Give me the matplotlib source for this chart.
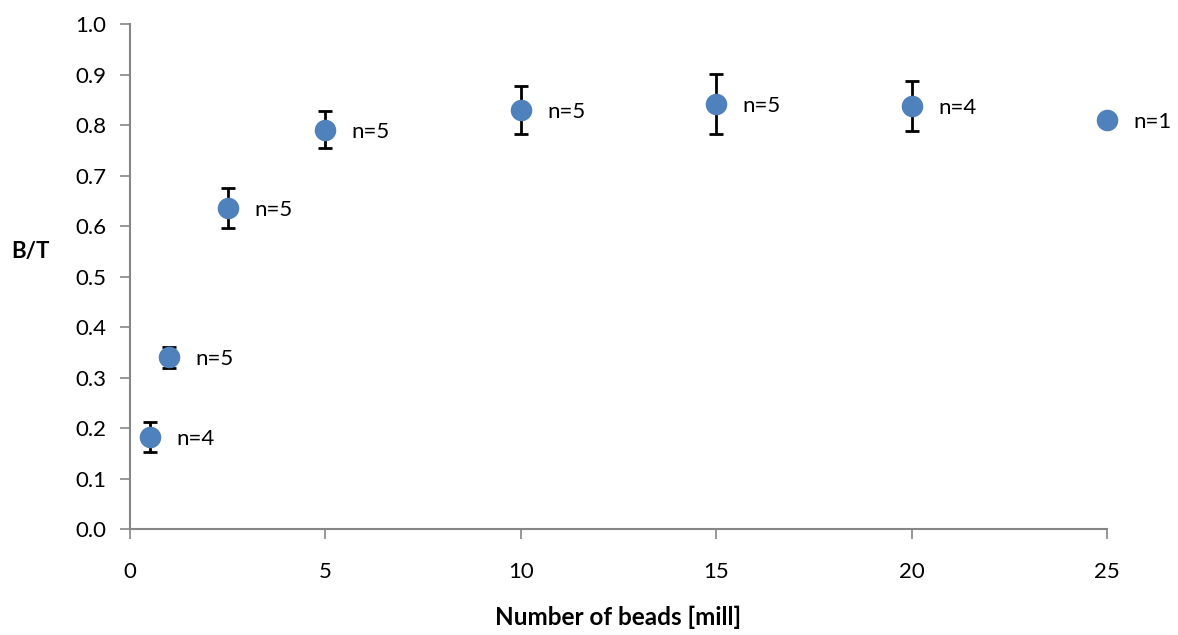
import numpy as np
import matplotlib.pyplot as plt

plt.rcParams['font.family'] = ['Lato', 'DejaVu Sans']

beads = [0.5, 1, 2.5, 5, 10, 15, 20, 25]
ratio = [0.182, 0.340, 0.636, 0.791, 0.830, 0.842, 0.838, 0.810]
err = [0.030, 0.021, 0.039, 0.037, 0.048, 0.059, 0.050, 0.0]
n_labels = ['n=4', 'n=5', 'n=5', 'n=5', 'n=5', 'n=5', 'n=4', 'n=1']

fig = plt.figure(figsize=(11.78, 6.35), dpi=100)
ax = fig.add_axes([0.1104, 0.1669, 0.8293, 0.7953])

has_err = [e > 0 for e in err]
ax.errorbar([b for b, h in zip(beads, has_err) if h],
            [r for r, h in zip(ratio, has_err) if h],
            yerr=[e for e, h in zip(err, has_err) if h],
            fmt='none', ecolor='black', elinewidth=2, capsize=5, capthick=2, zorder=2)
ax.plot(beads, ratio, 'o', color='#4F81BD', markersize=14.5, zorder=3, clip_on=False)

for b, r, lab in zip(beads, ratio, n_labels):
    ax.annotate(lab, (b, r), xytext=(19, -1.5), textcoords='offset points',
                ha='left', va='center', fontsize=16)

ax.set_xlim(0, 25)
ax.set_ylim(0, 1.0)
ax.set_xticks(np.arange(0, 26, 5))
ax.set_yticks(np.arange(0, 1.01, 0.1))
ax.set_yticklabels([f'{v:.1f}' for v in np.arange(0, 1.01, 0.1)])

for side in ['top', 'right']:
    ax.spines[side].set_visible(False)
for side in ['left', 'bottom']:
    ax.spines[side].set_color('#868686')
    ax.spines[side].set_linewidth(1.5)
ax.tick_params(axis='both', colors='#868686', labelcolor='black', labelsize=16,
               length=7, width=1.2)
ax.tick_params(axis='x', pad=17)
ax.tick_params(axis='y', pad=10)

ax.set_xlabel('Number of beads [mill]', fontsize=17.5, fontweight='bold', va='center')
ax.xaxis.set_label_coords(0.5, -0.174)
ax.set_ylabel('B/T', fontsize=16, fontweight='bold', rotation=0, va='center', ha='center')
ax.yaxis.set_label_coords(-0.102, 0.549)

fig.savefig('out.png', dpi=100)
